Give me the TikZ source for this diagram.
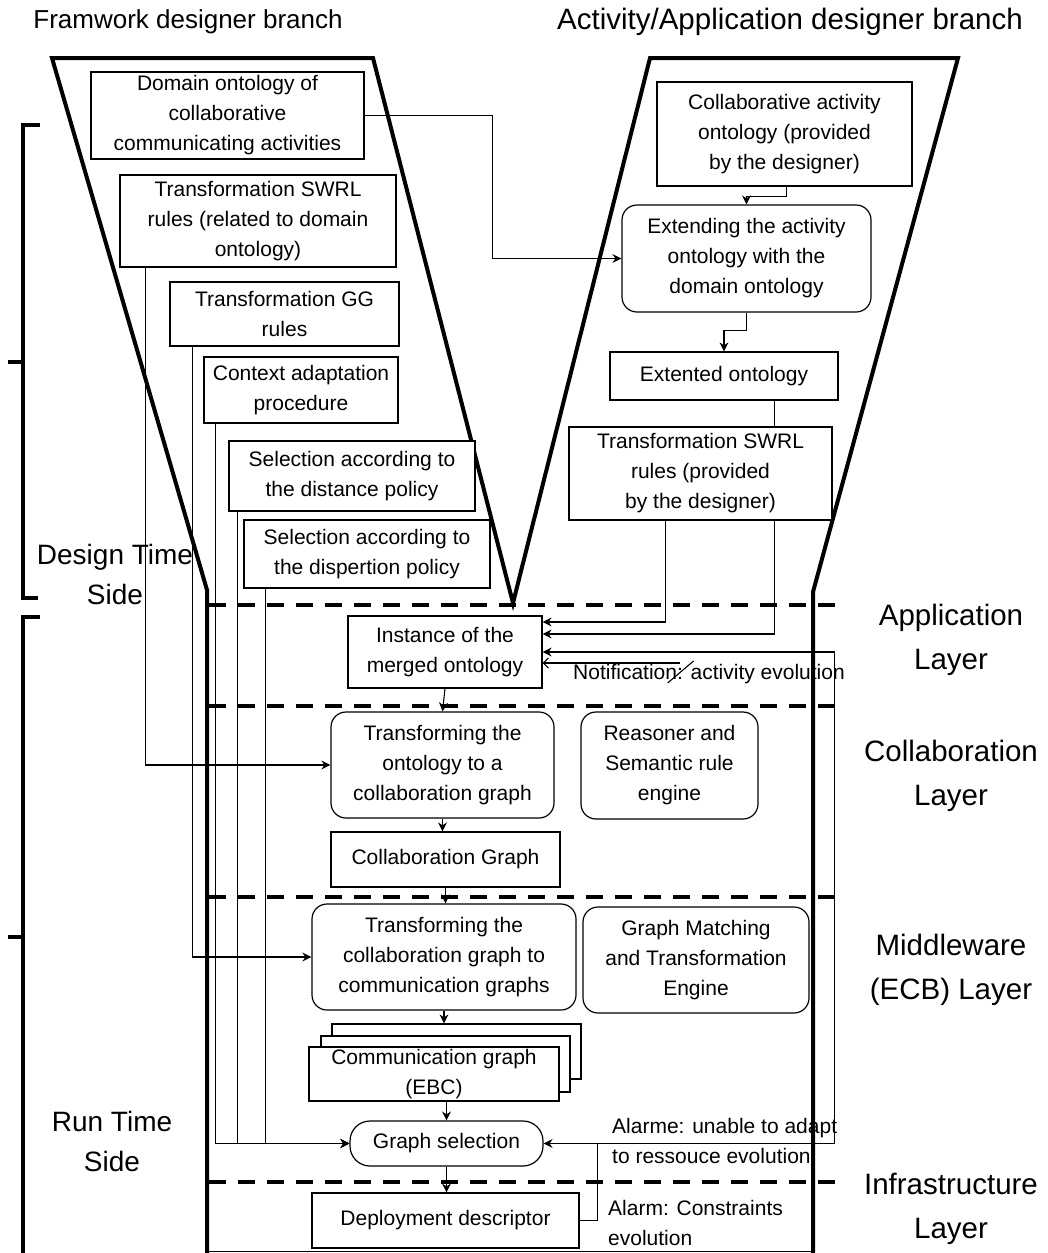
\documentclass[tikz,border=0pt]{standalone}
\usepackage{fontspec}
\setmainfont{Liberation Sans}
\usetikzlibrary{arrows.meta}
\pgfdeclarelayer{back}
\pgfsetlayers{back,main}
\begin{document}
\begin{tikzpicture}[x=1pt,y=-1pt,
  box/.style={draw, line width=1.2pt, fill=white, inner sep=0pt, align=center,
    font=\fontsize{21}{30}\selectfont},
  rbox/.style={box, rounded corners=15pt},
  wire/.style={line width=1.1pt},
  arr/.style={wire, -{Stealth[length=9pt,width=9pt,inset=3pt]}},
  barb/.style={wire, -{Straight Barb[length=5pt,width=10pt]}},
  frame/.style={line width=4pt},
  layerline/.style={line width=4.5pt, dash pattern=on 17pt off 12pt},
  note/.style={inner sep=0pt, align=left, font=\fontsize{21}{30}\selectfont},
  layerlabel/.style={inner sep=0pt, align=center, font=\fontsize{29.5}{44}\selectfont},
  sidelabel/.style={inner sep=0pt, align=center, font=\fontsize{28}{40}\selectfont}]
\useasboundingbox (0,0) rectangle (1047,1253);

% branch titles
\node[inner sep=0pt, font=\fontsize{26}{30}\selectfont] (ttlFw) at (188,22) {Framwork designer branch};
\node[inner sep=0pt, font=\fontsize{29.5}{30}\selectfont] (ttlAp) at (790,22) {Activity/Application designer branch};

% framework designer boxes
\node[box, minimum width=273pt, minimum height=87pt] (dom) at (227.5,115.5)
  {Domain ontology of\\collaborative\\communicating activities};
\node[box, minimum width=276pt, minimum height=92pt] (swrlA) at (258,221)
  {Transformation SWRL\\rules (related to domain\\ontology)};
\node[box, minimum width=229pt, minimum height=64pt] (gg) at (284.5,314)
  {Transformation GG\\rules};
\node[box, minimum width=194pt, minimum height=66pt] (ctx) at (301,390)
  {Context adaptation\\procedure};
\node[box, minimum width=246pt, minimum height=70pt] (dist) at (352,476)
  {Selection according to\\the distance policy};
\node[box, minimum width=246pt, minimum height=68pt] (disp) at (367,554)
  {Selection according to\\the dispertion policy};

% activity designer boxes
\node[box, minimum width=255pt, minimum height=104pt] (collab) at (784.5,134)
  {Collaborative activity\\ontology (provided\\by the designer)};
\node[rbox, minimum width=249pt, minimum height=107pt] (extend) at (746.5,258.5)
  {Extending the activity\\ontology with the\\domain ontology};
\node[box, minimum width=228pt, minimum height=48pt] (extd) at (724,376)
  {Extented ontology};
\node[box, minimum width=263pt, minimum height=93pt] (swrlB) at (700.5,473.5)
  {Transformation SWRL\\rules (provided\\by the designer)};

% run time boxes
\node[box, minimum width=194pt, minimum height=72pt] (inst) at (445,652)
  {Instance of the\\merged ontology};
\node[rbox, minimum width=223pt, minimum height=106pt] (tonto) at (442.5,765)
  {Transforming the\\ontology to a\\collaboration graph};
\node[rbox, minimum width=177pt, minimum height=107pt] (reas) at (669.5,765.5)
  {Reasoner and\\Semantic rule\\engine};
\node[box, minimum width=229pt, minimum height=55pt] (cgraph) at (445.5,859.5)
  {Collaboration Graph};
\node[rbox, minimum width=264pt, minimum height=106pt] (tcoll) at (444,957)
  {Transforming the\\collaboration graph to\\communication graphs};
\node[rbox, minimum width=226pt, minimum height=106pt] (gmatch) at (696,960)
  {Graph Matching\\and Transformation\\Engine};
\node[box, minimum width=249pt, minimum height=55pt] (ebcC) at (456.5,1051.5) {};
\node[box, minimum width=249pt, minimum height=56pt] (ebcB) at (445.5,1064) {};
\node[box, minimum width=250pt, minimum height=54pt] (ebc) at (434,1074)
  {Communication graph\\(EBC)};
\node[box, rounded corners=20pt, minimum width=193pt, minimum height=45pt] (gsel) at (446.5,1143.5)
  {Graph selection};
\node[box, minimum width=267pt, minimum height=55pt] (deploy) at (445.5,1220.5)
  {Deployment descriptor};

% signal texts
\node[note, anchor=west] (notif) at (573,674) {Notification: activity evolution};
\node[note, anchor=west] (alarmA) at (612,1141) {Alarme: unable to adapt\\to ressouce evolution};
\node[note, anchor=west] (alarmB) at (608,1223) {Alarm: Constraints\\evolution};

% layer names
\node[layerlabel] (lyApp) at (951,640) {Application\\Layer};
\node[layerlabel] (lyCol) at (951,776) {Collaboration\\Layer};
\node[layerlabel] (lyMid) at (951,970) {Middleware\\(ECB) Layer};
\node[layerlabel] (lyInf) at (951,1209) {Infrastructure\\Layer};

% sides
\node[sidelabel] (sdDesign) at (115,574) {Design Time\\Side};
\node[sidelabel] (sdRun) at (112,1141) {Run Time\\Side};

\begin{pgfonlayer}{back}
  % funnel outline
  \draw[frame] (207,1253) -- (207,590) -- (52,58) -- (373,58) -- (513,603)
    -- (650,58) -- (958,58) -- (813,592) -- (813,1253);
  \draw[wire] (207,1251.5) -- (813,1251.5);
  % side brackets
  \draw[frame] (40,125) -- (23,125) -- (23,598) -- (38,598);
  \draw[frame] (8,362) -- (23,362);
  \draw[frame] (40,617) -- (23,617) -- (23,1253);
  \draw[frame] (8,937) -- (23,937);
  % layer separators
  \foreach \yy in {605,706,897,1182}
    \draw[layerline] (209,\yy) -- (845,\yy);

  % activity designer flow
  \draw[arr] (dom.east) -- ++(128,0) |- (extend.west);
  \draw[arr] ([xshift=2pt]collab.south) -- ++(0,10) -| (extend.north);
  \draw[arr] (extend.south) -- ++(0,18) -| (extd.north);
  \draw[arr] ([xshift=-64pt]extd.south east) |- ([yshift=18pt]inst.east);
  \draw[arr] ([xshift=97pt]swrlB.south west) |- ([yshift=30pt]inst.east);
  \draw[barb] ([xshift=137pt,yshift=-11pt]inst.east) -- ([yshift=-11pt]inst.east);
  \draw[wire] ([xshift=125pt,yshift=-31pt]inst.east) -- ++(26,-22);

  % framework designer inputs
  \draw[arr] ([xshift=26pt]swrlA.south west) |- (tonto.west);
  \draw[arr] ([xshift=23pt]gg.south west) |- (tcoll.west);
  \draw[arr] ([xshift=12pt]ctx.south west) |- (gsel.west);
  \draw[arr] ([xshift=9pt]dist.south west) |- (gsel.west);
  \draw[arr] ([xshift=22pt]disp.south west) |- (gsel.west);

  % run time chain
  \draw[arr] (inst.south) -- (tonto.north);
  \draw[arr] (tonto.south) -- (tonto.south |- cgraph.north);
  \draw[arr] (cgraph.south) -- (cgraph.south |- tcoll.north);
  \draw[arr] (tcoll.south) -- (tcoll.south |- ebcC.north);
  \draw[arr] (gsel.north |- ebc.south) -- (gsel.north);
  \draw[arr] (gsel.south) -- (gsel.south |- deploy.north);

  % feedback loops
  \draw[arr] (deploy.east) -- ++(18,0) |- (gsel.east);
  \draw[arr] ([xshift=54pt]gsel.east) -- ++(237,0) |- (inst.east);
\end{pgfonlayer}
\end{tikzpicture}
\end{document}
